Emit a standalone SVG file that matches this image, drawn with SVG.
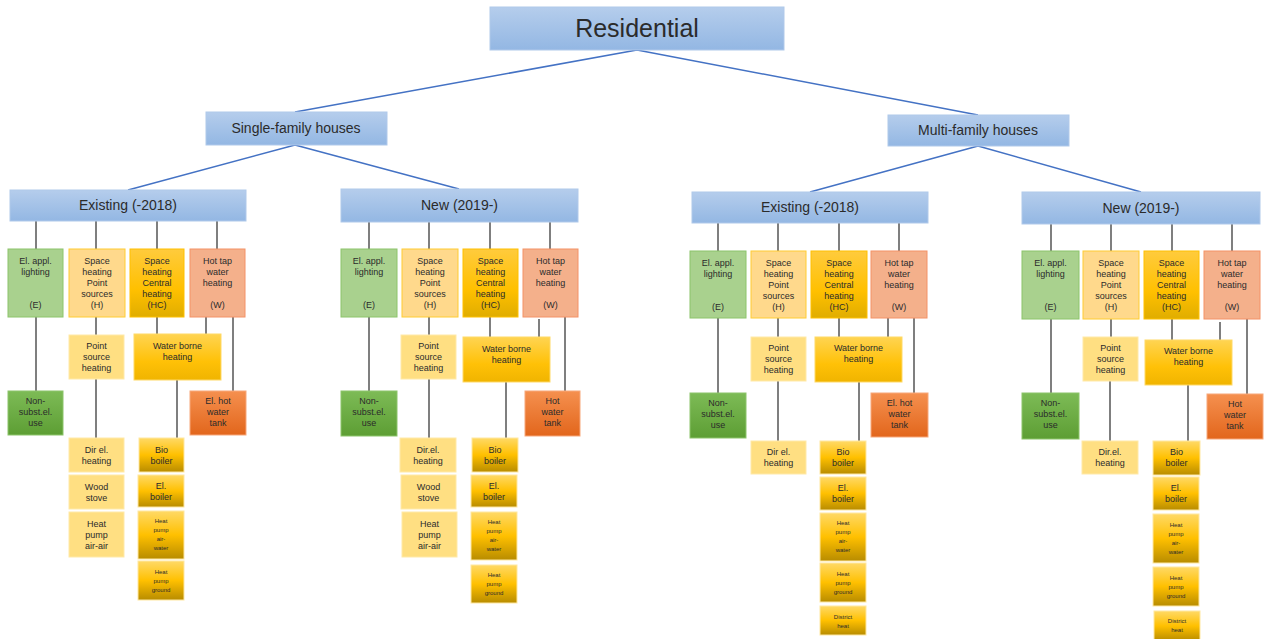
<svg xmlns="http://www.w3.org/2000/svg" width="1270" height="639" viewBox="0 0 1270 639">
<defs>
<linearGradient id="gBlue" x1="0" y1="0" x2="0" y2="1"><stop offset="0" stop-color="#b5cdec"/><stop offset="1" stop-color="#93b7e3"/></linearGradient>
<linearGradient id="gGreen" x1="0" y1="0" x2="0" y2="1"><stop offset="0" stop-color="#7dbb56"/><stop offset="1" stop-color="#5d9e34"/></linearGradient>
<linearGradient id="gGold" x1="0" y1="0" x2="0" y2="1"><stop offset="0" stop-color="#ffcb3d"/><stop offset="0.6" stop-color="#ffc000"/><stop offset="1" stop-color="#e0ad00"/></linearGradient>
<linearGradient id="gWB" x1="0" y1="0" x2="0" y2="1"><stop offset="0" stop-color="#ffd452"/><stop offset="0.6" stop-color="#ffc107"/><stop offset="1" stop-color="#f0b400"/></linearGradient>
<linearGradient id="gBoil" x1="0" y1="0" x2="0" y2="1"><stop offset="0" stop-color="#ffd966"/><stop offset="0.5" stop-color="#ffc000"/><stop offset="1" stop-color="#b88c00"/></linearGradient>
<linearGradient id="gOrange" x1="0" y1="0" x2="0" y2="1"><stop offset="0" stop-color="#f5904f"/><stop offset="1" stop-color="#e2661c"/></linearGradient>
</defs>
<style>
text{font-family:"Liberation Sans",Arial,sans-serif;fill:#2b2b2b;text-anchor:middle}
.t9{font-size:9px}
.t6{font-size:6px}
.blue{fill:url(#gBlue);stroke:#b0c9ea;stroke-width:1}
.e{fill:#a9d18e;stroke:#8cc46a;stroke-width:1}
.ns{fill:url(#gGreen);stroke:#8cc46a;stroke-width:1}
.h{fill:#ffd98c;stroke:#ffcc33;stroke-width:1}
.ps{fill:#ffdf82;stroke:#ffe9a8;stroke-width:1}
.hc{fill:url(#gGold);stroke:#ffc000;stroke-width:1}
.wb{fill:url(#gWB);stroke:#ffd966;stroke-width:1}
.bo{fill:url(#gBoil);stroke:#ffe7a0;stroke-width:1}
.w{fill:#f4b08b;stroke:#f49266;stroke-width:1}
.tank{fill:url(#gOrange);stroke:#f7a77a;stroke-width:1}
.gc{stroke:#7f7f7f;stroke-width:2;fill:none}
.bc{stroke:#4472c4;stroke-width:1.5;fill:none}
</style>

<g id="connectors">
<path class="bc" d="M637,50L295,112M637,50L978,115M295,145L128,190M295,145L459,189M978,146L810,192M978,146L1141,192"/>
<path class="gc" d="M36,221V249M96,221V249M157,221V249M217,221V249M36,317V391M96,317V335M157,317V334M206,317V334M233,317V391M96,379V438M177,380V438"/>
<path class="gc" d="M369,222V249M429,222V249M490,222V249M550,222V249M369,317V391M429,317V335M490,317V337M539,319V337M565,317V391M429,379V438M506,382V438"/>
<path class="gc" d="M718,223V251M778,223V251M839,223V251M899,223V251M718,318V393M778,318V337M839,318V337M888,318V337M914,318V393M778,381V441M859,382V441"/>
<path class="gc" d="M1051,224V251M1111,224V251M1172,224V251M1232,224V251M1051,319V393M1111,319V337M1172,319V340M1220,322V340M1247,319V394M1110,381V441M1188,385V441"/>
</g>

<g id="residential"><rect class="blue" x="490" y="7" width="294" height="43"/><text x="637" y="37" style="font-size:25px">Residential</text></g>
<g id="single-family"><rect class="blue" x="206" y="112" width="181" height="33"/><text x="296" y="133" style="font-size:14px">Single-family houses</text></g>
<g id="multi-family"><rect class="blue" x="888" y="115" width="181" height="31"/><text x="978" y="135" style="font-size:14px">Multi-family houses</text></g>

<!-- Group 1: Single-family Existing -->
<g id="sf-existing"><rect class="blue" x="10" y="190" width="236" height="31"/><text x="128" y="210" style="font-size:14px">Existing (-2018)</text></g>
<g id="sf-ex-e"><rect class="e" x="8" y="249" width="55" height="68"/><text class="t9" x="35.5" y="264">El. appl.<tspan x="35.5" dy="11">lighting</tspan><tspan x="35.5" y="308">(E)</tspan></text></g>
<g id="sf-ex-h"><rect class="h" x="69" y="249" width="56" height="68"/><text class="t9" x="97" y="264">Space<tspan x="97" dy="11">heating</tspan><tspan x="97" dy="11">Point</tspan><tspan x="97" dy="11">sources</tspan><tspan x="97" dy="11">(H)</tspan></text></g>
<g id="sf-ex-hc"><rect class="hc" x="130" y="249" width="54" height="68"/><text class="t9" x="157" y="264">Space<tspan x="157" dy="11">heating</tspan><tspan x="157" dy="11">Central</tspan><tspan x="157" dy="11">heating</tspan><tspan x="157" dy="11">(HC)</tspan></text></g>
<g id="sf-ex-w"><rect class="w" x="190" y="249" width="55" height="68"/><text class="t9" x="217.5" y="264">Hot tap<tspan x="217.5" dy="11">water</tspan><tspan x="217.5" dy="11">heating</tspan><tspan x="217.5" y="308">(W)</tspan></text></g>
<g id="sf-ex-psh"><rect class="ps" x="69" y="335" width="55" height="44"/><text class="t9" x="96.5" y="349">Point<tspan x="96.5" dy="11">source</tspan><tspan x="96.5" dy="11">heating</tspan></text></g>
<g id="sf-ex-wb"><rect class="wb" x="134" y="334" width="87" height="46"/><text class="t9" x="177.5" y="349">Water borne<tspan x="177.5" dy="11">heating</tspan></text></g>
<g id="sf-ex-ns"><rect class="ns" x="8" y="391" width="55" height="44"/><text class="t9" x="35.5" y="404">Non-<tspan x="35.5" dy="11">subst.el.</tspan><tspan x="35.5" dy="11">use</tspan></text></g>
<g id="sf-ex-tank"><rect class="tank" x="190" y="391" width="56" height="44"/><text class="t9" x="218" y="404">El. hot<tspan x="218" dy="11">water</tspan><tspan x="218" dy="11">tank</tspan></text></g>
<g id="sf-ex-de"><rect class="ps" x="69" y="438" width="55" height="34"/><text class="t9" x="96.5" y="453">Dir el.<tspan x="96.5" dy="11">heating</tspan></text></g>
<g id="sf-ex-ws"><rect class="ps" x="69" y="475" width="55" height="34"/><text class="t9" x="96.5" y="490">Wood<tspan x="96.5" dy="11">stove</tspan></text></g>
<g id="sf-ex-hpaa"><rect class="ps" x="69" y="512" width="55" height="45"/><text class="t9" x="96.5" y="527">Heat<tspan x="96.5" dy="11">pump</tspan><tspan x="96.5" dy="11">air-air</tspan></text></g>
<g id="sf-ex-bb"><rect class="bo" x="139" y="438" width="45" height="34"/><text class="t9" x="161.5" y="453">Bio<tspan x="161.5" dy="11">boiler</tspan></text></g>
<g id="sf-ex-eb"><rect class="bo" x="138" y="475" width="46" height="32"/><text class="t9" x="161" y="489">El.<tspan x="161" dy="11">boiler</tspan></text></g>
<g id="sf-ex-hpaw"><rect class="bo" x="138" y="511" width="46" height="48"/><text class="t6" x="161" y="523">Heat<tspan x="161" dy="9">pump</tspan><tspan x="161" dy="9">air-</tspan><tspan x="161" dy="9">water</tspan></text></g>
<g id="sf-ex-hpg"><rect class="bo" x="138" y="561" width="46" height="39"/><text class="t6" x="161" y="574">Heat<tspan x="161" dy="9">pump</tspan><tspan x="161" dy="9">ground</tspan></text></g>

<!-- Group 2: Single-family New -->
<g id="sf-new"><rect class="blue" x="341" y="189" width="237" height="33"/><text x="459.5" y="210" style="font-size:14px">New (2019-)</text></g>
<g id="sf-new-e"><rect class="e" x="341" y="249" width="56" height="68"/><text class="t9" x="369" y="264">El. appl.<tspan x="369" dy="11">lighting</tspan><tspan x="369" y="308">(E)</tspan></text></g>
<g id="sf-new-h"><rect class="h" x="402" y="249" width="56" height="68"/><text class="t9" x="430" y="264">Space<tspan x="430" dy="11">heating</tspan><tspan x="430" dy="11">Point</tspan><tspan x="430" dy="11">sources</tspan><tspan x="430" dy="11">(H)</tspan></text></g>
<g id="sf-new-hc"><rect class="hc" x="463" y="249" width="55" height="68"/><text class="t9" x="490.5" y="264">Space<tspan x="490.5" dy="11">heating</tspan><tspan x="490.5" dy="11">Central</tspan><tspan x="490.5" dy="11">heating</tspan><tspan x="490.5" dy="11">(HC)</tspan></text></g>
<g id="sf-new-w"><rect class="w" x="523" y="249" width="55" height="68"/><text class="t9" x="550.5" y="264">Hot tap<tspan x="550.5" dy="11">water</tspan><tspan x="550.5" dy="11">heating</tspan><tspan x="550.5" y="308">(W)</tspan></text></g>
<g id="sf-new-psh"><rect class="ps" x="401" y="335" width="55" height="44"/><text class="t9" x="428.5" y="349">Point<tspan x="428.5" dy="11">source</tspan><tspan x="428.5" dy="11">heating</tspan></text></g>
<g id="sf-new-wb"><rect class="wb" x="463" y="337" width="87" height="45"/><text class="t9" x="506.5" y="352">Water borne<tspan x="506.5" dy="11">heating</tspan></text></g>
<g id="sf-new-ns"><rect class="ns" x="341" y="391" width="56" height="45"/><text class="t9" x="369" y="404">Non-<tspan x="369" dy="11">subst.el.</tspan><tspan x="369" dy="11">use</tspan></text></g>
<g id="sf-new-tank"><rect class="tank" x="525" y="391" width="55" height="45"/><text class="t9" x="552.5" y="404">Hot<tspan x="552.5" dy="11">water</tspan><tspan x="552.5" dy="11">tank</tspan></text></g>
<g id="sf-new-de"><rect class="ps" x="400" y="438" width="56" height="34"/><text class="t9" x="428" y="453">Dir.el.<tspan x="428" dy="11">heating</tspan></text></g>
<g id="sf-new-ws"><rect class="ps" x="401" y="475" width="55" height="34"/><text class="t9" x="428.5" y="490">Wood<tspan x="428.5" dy="11">stove</tspan></text></g>
<g id="sf-new-hpaa"><rect class="ps" x="402" y="512" width="55" height="45"/><text class="t9" x="429.5" y="527">Heat<tspan x="429.5" dy="11">pump</tspan><tspan x="429.5" dy="11">air-air</tspan></text></g>
<g id="sf-new-bb"><rect class="bo" x="472" y="438" width="46" height="34"/><text class="t9" x="495" y="453">Bio<tspan x="495" dy="11">boiler</tspan></text></g>
<g id="sf-new-eb"><rect class="bo" x="471" y="475" width="46" height="32"/><text class="t9" x="494" y="489">El.<tspan x="494" dy="11">boiler</tspan></text></g>
<g id="sf-new-hpaw"><rect class="bo" x="471" y="512" width="46" height="48"/><text class="t6" x="494" y="524">Heat<tspan x="494" dy="9">pump</tspan><tspan x="494" dy="9">air-</tspan><tspan x="494" dy="9">water</tspan></text></g>
<g id="sf-new-hpg"><rect class="bo" x="471" y="565" width="46" height="38"/><text class="t6" x="494" y="577">Heat<tspan x="494" dy="9">pump</tspan><tspan x="494" dy="9">ground</tspan></text></g>

<!-- Group 3: Multi-family Existing -->
<g id="mf-existing"><rect class="blue" x="692" y="192" width="236" height="31"/><text x="810" y="212" style="font-size:14px">Existing (-2018)</text></g>
<g id="mf-ex-e"><rect class="e" x="690" y="251" width="56" height="67"/><text class="t9" x="718" y="266">El. appl.<tspan x="718" dy="11">lighting</tspan><tspan x="718" y="310">(E)</tspan></text></g>
<g id="mf-ex-h"><rect class="h" x="751" y="251" width="55" height="67"/><text class="t9" x="778.5" y="266">Space<tspan x="778.5" dy="11">heating</tspan><tspan x="778.5" dy="11">Point</tspan><tspan x="778.5" dy="11">sources</tspan><tspan x="778.5" dy="11">(H)</tspan></text></g>
<g id="mf-ex-hc"><rect class="hc" x="811" y="251" width="56" height="67"/><text class="t9" x="839" y="266">Space<tspan x="839" dy="11">heating</tspan><tspan x="839" dy="11">Central</tspan><tspan x="839" dy="11">heating</tspan><tspan x="839" dy="11">(HC)</tspan></text></g>
<g id="mf-ex-w"><rect class="w" x="871" y="251" width="56" height="67"/><text class="t9" x="899" y="266">Hot tap<tspan x="899" dy="11">water</tspan><tspan x="899" dy="11">heating</tspan><tspan x="899" y="310">(W)</tspan></text></g>
<g id="mf-ex-psh"><rect class="ps" x="751" y="337" width="55" height="44"/><text class="t9" x="778.5" y="351">Point<tspan x="778.5" dy="11">source</tspan><tspan x="778.5" dy="11">heating</tspan></text></g>
<g id="mf-ex-wb"><rect class="wb" x="815" y="337" width="87" height="45"/><text class="t9" x="858.5" y="351">Water borne<tspan x="858.5" dy="11">heating</tspan></text></g>
<g id="mf-ex-ns"><rect class="ns" x="690" y="393" width="56" height="45"/><text class="t9" x="718" y="406">Non-<tspan x="718" dy="11">subst.el.</tspan><tspan x="718" dy="11">use</tspan></text></g>
<g id="mf-ex-tank"><rect class="tank" x="871" y="393" width="57" height="44"/><text class="t9" x="899.5" y="406">El. hot<tspan x="899.5" dy="11">water</tspan><tspan x="899.5" dy="11">tank</tspan></text></g>
<g id="mf-ex-de"><rect class="ps" x="751" y="441" width="55" height="33"/><text class="t9" x="778.5" y="455">Dir el.<tspan x="778.5" dy="11">heating</tspan></text></g>
<g id="mf-ex-bb"><rect class="bo" x="820" y="441" width="46" height="33"/><text class="t9" x="843" y="455">Bio<tspan x="843" dy="11">boiler</tspan></text></g>
<g id="mf-ex-eb"><rect class="bo" x="820" y="477" width="46" height="33"/><text class="t9" x="843" y="491">El.<tspan x="843" dy="11">boiler</tspan></text></g>
<g id="mf-ex-hpaw"><rect class="bo" x="820" y="513" width="46" height="48"/><text class="t6" x="843" y="525">Heat<tspan x="843" dy="9">pump</tspan><tspan x="843" dy="9">air-</tspan><tspan x="843" dy="9">water</tspan></text></g>
<g id="mf-ex-hpg"><rect class="bo" x="820" y="563" width="46" height="39"/><text class="t6" x="843" y="576">Heat<tspan x="843" dy="9">pump</tspan><tspan x="843" dy="9">ground</tspan></text></g>
<g id="mf-ex-dh"><rect class="bo" x="820" y="606" width="46" height="29"/><text class="t6" x="843" y="619">District<tspan x="843" dy="9">heat</tspan></text></g>

<!-- Group 4: Multi-family New -->
<g id="mf-new"><rect class="blue" x="1022" y="192" width="238" height="32"/><text x="1141" y="213" style="font-size:14px">New (2019-)</text></g>
<g id="mf-new-e"><rect class="e" x="1022" y="251" width="57" height="68"/><text class="t9" x="1050.5" y="266">El. appl.<tspan x="1050.5" dy="11">lighting</tspan><tspan x="1050.5" y="310">(E)</tspan></text></g>
<g id="mf-new-h"><rect class="h" x="1083" y="251" width="56" height="68"/><text class="t9" x="1111" y="266">Space<tspan x="1111" dy="11">heating</tspan><tspan x="1111" dy="11">Point</tspan><tspan x="1111" dy="11">sources</tspan><tspan x="1111" dy="11">(H)</tspan></text></g>
<g id="mf-new-hc"><rect class="hc" x="1144" y="251" width="55" height="68"/><text class="t9" x="1171.5" y="266">Space<tspan x="1171.5" dy="11">heating</tspan><tspan x="1171.5" dy="11">Central</tspan><tspan x="1171.5" dy="11">heating</tspan><tspan x="1171.5" dy="11">(HC)</tspan></text></g>
<g id="mf-new-w"><rect class="w" x="1204" y="251" width="56" height="68"/><text class="t9" x="1232" y="266">Hot tap<tspan x="1232" dy="11">water</tspan><tspan x="1232" dy="11">heating</tspan><tspan x="1232" y="310">(W)</tspan></text></g>
<g id="mf-new-psh"><rect class="ps" x="1083" y="337" width="55" height="44"/><text class="t9" x="1110.5" y="351">Point<tspan x="1110.5" dy="11">source</tspan><tspan x="1110.5" dy="11">heating</tspan></text></g>
<g id="mf-new-wb"><rect class="wb" x="1145" y="340" width="87" height="45"/><text class="t9" x="1188.5" y="354">Water borne<tspan x="1188.5" dy="11">heating</tspan></text></g>
<g id="mf-new-ns"><rect class="ns" x="1022" y="393" width="57" height="46"/><text class="t9" x="1050.5" y="406">Non-<tspan x="1050.5" dy="11">subst.el.</tspan><tspan x="1050.5" dy="11">use</tspan></text></g>
<g id="mf-new-tank"><rect class="tank" x="1207" y="394" width="56" height="45"/><text class="t9" x="1235" y="407">Hot<tspan x="1235" dy="11">water</tspan><tspan x="1235" dy="11">tank</tspan></text></g>
<g id="mf-new-de"><rect class="ps" x="1082" y="441" width="56" height="33"/><text class="t9" x="1110" y="455">Dir.el.<tspan x="1110" dy="11">heating</tspan></text></g>
<g id="mf-new-bb"><rect class="bo" x="1153" y="441" width="47" height="34"/><text class="t9" x="1176.5" y="455">Bio<tspan x="1176.5" dy="11">boiler</tspan></text></g>
<g id="mf-new-eb"><rect class="bo" x="1153" y="477" width="46" height="33"/><text class="t9" x="1176" y="491">El.<tspan x="1176" dy="11">boiler</tspan></text></g>
<g id="mf-new-hpaw"><rect class="bo" x="1153" y="514" width="46" height="49"/><text class="t6" x="1176" y="527">Heat<tspan x="1176" dy="9">pump</tspan><tspan x="1176" dy="9">air-</tspan><tspan x="1176" dy="9">water</tspan></text></g>
<g id="mf-new-hpg"><rect class="bo" x="1153" y="567" width="46" height="39"/><text class="t6" x="1176" y="580">Heat<tspan x="1176" dy="9">pump</tspan><tspan x="1176" dy="9">ground</tspan></text></g>
<g id="mf-new-dh"><rect class="bo" x="1154" y="611" width="46" height="30"/><text class="t6" x="1177" y="623">District<tspan x="1177" dy="9">heat</tspan></text></g>
</svg>
